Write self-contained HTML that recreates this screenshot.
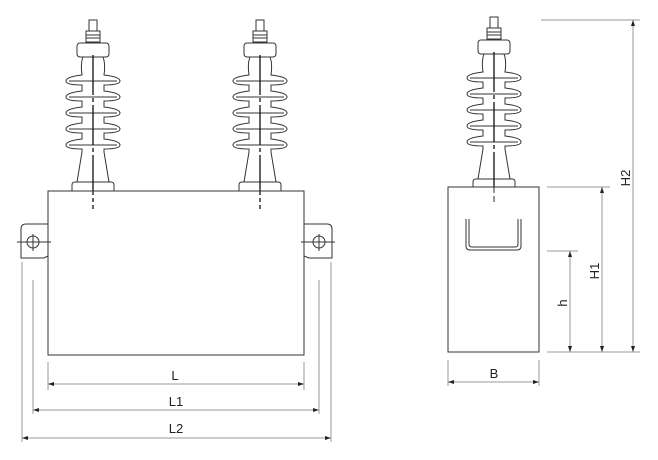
<!DOCTYPE html>
<html><head><meta charset="utf-8"><style>
html,body{margin:0;padding:0;background:#fff;width:658px;height:460px;overflow:hidden}
text{font-family:"Liberation Sans",sans-serif;font-size:13px;fill:#222}
</style></head><body>
<svg width="658" height="460" viewBox="0 0 658 460" xmlns="http://www.w3.org/2000/svg">
<defs>
<g id="ins" fill="#fff" stroke="#333" stroke-width="1">
  <rect x="-4" y="20" width="8" height="12"/>
  <rect x="-7" y="31" width="14" height="11"/>
  <line x1="-7" y1="35" x2="7" y2="35"/><line x1="-7" y1="38" x2="7" y2="38"/>
  <rect x="-16" y="43" width="32" height="14" rx="3"/>
  <path d="M-16,182 L-11,152 L-11,149 C-20,149 -27,148 -27,145 C-27,142 -20,140 -11,139 L-11,133 C-20,133 -27,132 -27,129 C-27,126 -20,124 -11,123 L-11,117 C-20,117 -27,116 -27,113 C-27,110 -20,108 -11,107 L-11,101 C-20,101 -27,100 -27,97 C-27,94 -20,92 -11,91 L-11,85 C-20,85 -27,84 -27,81 C-27,78 -20,76 -11,75 C-12,68 -12,62 -10,57 L10,57 C12,62 12,68 11,75 C20,76 27,78 27,81 C27,84 20,85 11,85 L11,91 C20,92 27,94 27,97 C27,100 20,101 11,101 L11,107 C20,108 27,110 27,113 C27,116 20,117 11,117 L11,123 C20,124 27,126 27,129 C27,132 20,133 11,133 L11,139 C20,140 27,142 27,145 C27,148 20,149 11,149 L11,152 L16,182 Z"/>
  <line x1="-24" y1="81" x2="24" y2="81"/><line x1="-24" y1="97" x2="24" y2="97"/><line x1="-24" y1="113" x2="24" y2="113"/><line x1="-24" y1="129" x2="24" y2="129"/><line x1="-24" y1="145" x2="24" y2="145"/>
  <path d="M-21,191 L-21,185 Q-21,182 -18,182 L18,182 Q21,182 21,185 L21,191"/>
  <line x1="0" y1="55" x2="0" y2="209" stroke="#111" stroke-width="1.3" stroke-dasharray="40,3,4,3"/>
</g>
</defs>
<use href="#ins" x="93" y="0"/>
<use href="#ins" x="260" y="0"/>
<g fill="none" stroke="#333" stroke-width="1">
 <rect x="48" y="191" width="256" height="164"/>
 <path d="M48,224 L26,224 Q21,224 21,229 L21,258 L44,258 L48,256"/>
 <circle cx="33" cy="242" r="6"/><line x1="17" y1="242" x2="51" y2="242"/><line x1="33" y1="234" x2="33" y2="251"/>
 <path d="M304,224 L327,224 Q332,224 332,229 L332,258 L309,258 L304,256"/>
 <circle cx="319" cy="242" r="6"/><line x1="301" y1="242" x2="335" y2="242"/><line x1="319" y1="234" x2="319" y2="251"/>
</g>
<use href="#ins" x="494" y="-3"/>
<g fill="none" stroke="#333" stroke-width="1">
 <rect x="448" y="187" width="91" height="165" fill="#fff"/>
 <path d="M466,219 L466,246 Q466,250 470,250 L517,250 Q521,250 521,246 L521,219"/>
 <path d="M469,219 L469,244 Q469,247 472,247 L515,247 Q518,247 518,244 L518,219"/>
 <line x1="494" y1="187" x2="494" y2="202" stroke-dasharray="6,3"/>
</g>
<g stroke="#999" stroke-width="1" fill="none">
 <line x1="48" y1="362" x2="48" y2="390"/><line x1="304" y1="362" x2="304" y2="390"/>
 <line x1="33" y1="280" x2="33" y2="414"/><line x1="319" y1="280" x2="319" y2="414"/>
 <line x1="22" y1="262" x2="22" y2="442"/><line x1="331" y1="262" x2="331" y2="442"/>
 <line x1="48" y1="384" x2="304" y2="384"/>
 <line x1="33" y1="410" x2="319" y2="410"/>
 <line x1="22" y1="438" x2="331" y2="438"/>
 <line x1="448" y1="360" x2="448" y2="386"/><line x1="539" y1="360" x2="539" y2="386"/>
 <line x1="448" y1="382" x2="539" y2="382"/>
 <line x1="541" y1="20" x2="640" y2="20"/>
 <line x1="547" y1="187" x2="610" y2="187"/>
 <line x1="547" y1="251" x2="578" y2="251"/>
 <line x1="547" y1="352" x2="640" y2="352"/>
 <line x1="633" y1="20" x2="633" y2="352"/>
 <line x1="602" y1="187" x2="602" y2="352"/>
 <line x1="570" y1="251" x2="570" y2="352"/>
</g>
<g fill="#222">
 <path d="M48,384 l6,-2 v4z"/><path d="M304,384 l-6,-2 v4z"/>
 <path d="M33,410 l6,-2 v4z"/><path d="M319,410 l-6,-2 v4z"/>
 <path d="M22,438 l6,-2 v4z"/><path d="M331,438 l-6,-2 v4z"/>
 <path d="M448,382 l6,-2 v4z"/><path d="M539,382 l-6,-2 v4z"/>
 <path d="M633,20 l-2,6 h4z"/><path d="M633,352 l-2,-6 h4z"/>
 <path d="M602,187 l-2,6 h4z"/><path d="M602,352 l-2,-6 h4z"/>
 <path d="M570,251 l-2,6 h4z"/><path d="M570,352 l-2,-6 h4z"/>
</g>
<text x="175" y="380" text-anchor="middle">L</text>
<text x="176" y="406" text-anchor="middle">L1</text>
<text x="176" y="433" text-anchor="middle">L2</text>
<text x="494" y="378" text-anchor="middle">B</text>
<text transform="translate(630,178) rotate(-90)" text-anchor="middle">H2</text>
<text transform="translate(599,271) rotate(-90)" text-anchor="middle">H1</text>
<text transform="translate(567,303) rotate(-90)" text-anchor="middle">h</text>
</svg>
</body></html>
